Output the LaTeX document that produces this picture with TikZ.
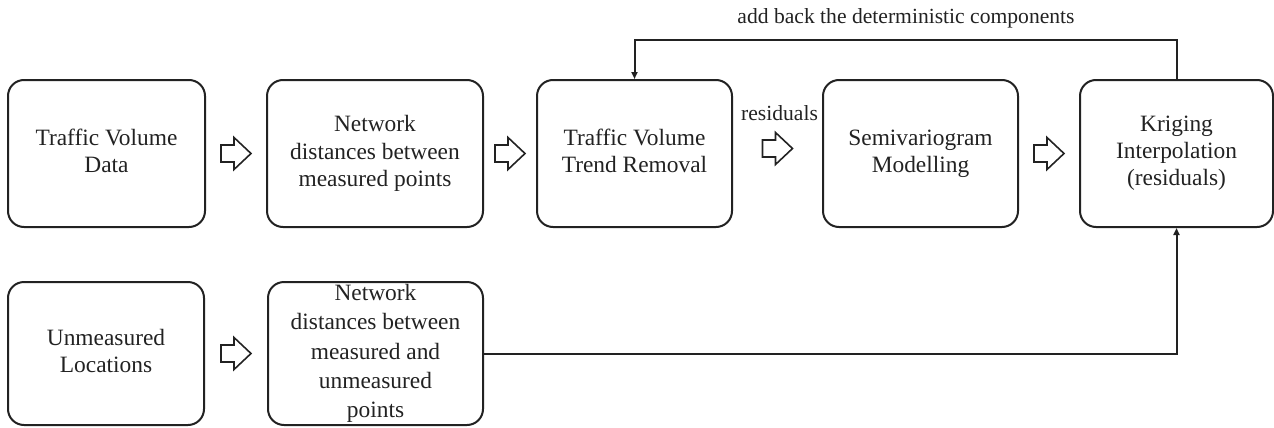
\documentclass[tikz,border=0pt]{standalone}
\usepackage{fontspec}
\setmainfont{Liberation Serif}
\usetikzlibrary{arrows.meta,calc}
\definecolor{ink}{HTML}{222222}
\tikzset{
  stagebox/.style={draw=ink, line width=1pt, rounded corners=8pt, align=center, inner sep=0pt,
    text=ink, font=\fontsize{11.7}{13.6}\selectfont},
  tallbox/.style={stagebox, font=\fontsize{11.7}{14.7}\selectfont},
  conn/.style={draw=ink, line width=1pt},
  lbl/.style={text=ink, font=\fontsize{10.8}{13}\selectfont, inner sep=0pt},
  barrow/.pic={\draw[ink, line width=0.8pt, line join=miter]
    (-15,-8.5) -- (-2,-8.5) -- (-2,-16) -- (15,0) -- (-2,16) -- (-2,8.5) -- (-15,8.5) -- cycle;}
}
\begin{document}
\begin{tikzpicture}[x=0.5pt,y=-0.5pt]
\useasboundingbox (0,0) rectangle (1274,428);
% top row
\node[stagebox, minimum width=98.5pt, minimum height=73.5pt] (b1) at (106.5,153.5) {Traffic Volume\\Data\vphantom{g}};
\node[stagebox, minimum width=108pt, minimum height=73.5pt] (b2) at (375,153.5) {Network\\distances between\\measured points};
\node[stagebox, minimum width=97.5pt, minimum height=73.5pt] (b3) at (634.5,153.5) {Traffic Volume\\Trend Removal\vphantom{g}};
\node[stagebox, minimum width=97.5pt, minimum height=73.5pt] (b4) at (920.5,153.5) {Semivariogram\\Modelling};
\node[stagebox, minimum width=96.5pt, minimum height=73.5pt] (b5) at (1176.5,153.5) {Kriging\\Interpolation\\(residuals)};
% bottom row
\node[stagebox, minimum width=98pt, minimum height=71.5pt] (b6) at (106,353.5) {Unmeasured\\Locations\vphantom{g}};
\node[tallbox, minimum width=107.5pt, minimum height=71.5pt] (b7) at (375.5,353.5) {Network\\distances between\\measured and\\unmeasured\\points};
% block arrows
\coordinate (a12) at ($(b1.east)!0.5!(b2.west)$);
\coordinate (a23) at ($(b2.east)!0.5!(b3.west)$);
\coordinate (a34) at ($($(b3.east)!0.5!(b4.west)$)+(0,-5)$);
\coordinate (a45) at ($(b4.east)!0.5!(b5.west)$);
\coordinate (a67) at ($(b6.east)!0.5!(b7.west)$);
\pic at (a12) {barrow};
\pic at (a23) {barrow};
\pic at (a34) {barrow};
\pic at (a45) {barrow};
\pic at (a67) {barrow};
% labels
\node[lbl] (res) at (779.5,113) {residuals};
\coordinate (fbY) at (0,40);
\node[lbl] (addback) at (906,18) {add back the deterministic components};
% connectors
\draw[conn, -{Triangle[length=3.5pt,width=3pt]}] (b5.north) -- (b5.north |- fbY) -| (b3.north);
\draw[conn, -{Triangle[length=3.5pt,width=3pt]}] (b7.east) -| (b5.south);
\end{tikzpicture}
\end{document}
